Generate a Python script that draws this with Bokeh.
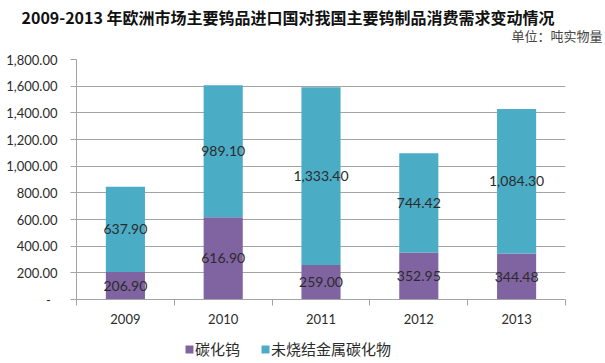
from bokeh.plotting import figure
from bokeh.layouts import column
from bokeh.models import (ColumnDataSource, Range1d, FixedTicker, Legend, LegendItem, Label)
from bokeh.core.properties import value
from bokeh.embed import file_html
from bokeh.resources import INLINE

# ---- data ----
years = ["2009", "2010", "2011", "2012", "2013"]
tungsten_carbide = [206.90, 616.90, 259.00, 352.95, 344.48]          # 碳化钨
unsintered_carbide = [637.90, 989.10, 1333.40, 744.42, 1084.30]      # 未烧结金属碳化物
y_ticks = [0, 200, 400, 600, 800, 1000, 1200, 1400, 1600, 1800]
y_tick_labels = ["-\u00a0\u00a0", "200.00", "400.00", "600.00", "800.00", "1,000.00",
                 "1,200.00", "1,400.00", "1,600.00", "1,800.00"]
series_names = ["碳化钨", "未烧结金属碳化物"]
title_text = "2009-2013 年欧洲市场主要钨品进口国对我国主要钨制品消费需求变动情况"
unit_text = "单位：吨实物量"

PURPLE = "#8064A2"
TEAL = "#4BACC6"
GRID = "#a3a3a3"
TXT = "#2b2b2b"
W = 605
H_TOP, H_MAIN, H_LEG = 45, 293, 25


def blank(h, xr=(0, 1)):
    f = figure(width=W, height=h, output_backend="svg", toolbar_location=None,
               x_range=Range1d(*xr), y_range=Range1d(0, 1),
               x_axis_location=None, y_axis_location=None, min_border=0)
    f.frame_align = False
    f.outline_line_color = None
    f.xgrid.visible = False
    f.ygrid.visible = False
    f.background_fill_color = "white"
    f.border_fill_color = "white"
    return f


# ---- title strip ----
top = blank(H_TOP)
top.add_layout(Label(x=21, y=H_TOP - 16, x_units="screen", y_units="screen", text=title_text,
                     text_font="Noto Sans CJK SC", text_font_size="16px", text_font_style="bold",
                     text_color="#111111", text_baseline="middle", text_align="left"))
top.add_layout(Label(x=602, y=H_TOP - 35, x_units="screen", y_units="screen", text=unit_text,
                     text_font="Noto Sans CJK SC", text_font_size="13px",
                     text_color="#444444", text_baseline="middle", text_align="right"))

# ---- main chart ----
xpos = [i + 0.5 for i in range(len(years))]
src = ColumnDataSource(dict(
    x=xpos,
    wc=tungsten_carbide,
    cc=unsintered_carbide,
    wc_mid=[a / 2 for a in tungsten_carbide],
    cc_mid=[a + b / 2 for a, b in zip(tungsten_carbide, unsintered_carbide)],
    wc_txt=[f"{v:,.2f}" for v in tungsten_carbide],
    cc_txt=[f"{v:,.2f}" for v in unsintered_carbide],
))

p = figure(width=W, height=H_MAIN, output_backend="svg", toolbar_location=None,
           x_range=Range1d(0, len(years)), y_range=Range1d(y_ticks[0], y_ticks[-1]),
           min_border_left=76, min_border_right=40, min_border_top=59 - H_TOP,
           min_border_bottom=H_TOP + H_MAIN - 299)
p.frame_align = False
p.outline_line_color = None
p.background_fill_color = "white"
p.border_fill_color = "white"

rs = p.vbar_stack(["wc", "cc"], x="x", width=0.4, color=[PURPLE, TEAL], source=src,
                  line_color=None)

common = dict(text_align="center", text_baseline="middle", text_font=value("Lato"),
              text_font_size="14px", text_color=TXT, source=src)
p.text(x="x", y="wc_mid", text="wc_txt", **common)
p.text(x="x", y="cc_mid", text="cc_txt", **common)

p.xgrid.visible = False
p.ygrid.grid_line_color = GRID
p.ygrid.grid_line_width = 1

ya = p.yaxis[0]
ya.ticker = FixedTicker(ticks=y_ticks, minor_ticks=[])
ya.major_label_overrides = {float(t): l for t, l in zip(y_ticks, y_tick_labels)}
ya.axis_line_color = GRID
ya.major_tick_line_color = GRID
ya.major_tick_out = 6
ya.major_tick_in = 0
ya.minor_tick_line_color = None
ya.major_label_standoff = 13
ya.major_label_text_font = "Lato"
ya.major_label_text_font_size = "13px"
ya.major_label_text_color = TXT

xa = p.xaxis[0]
xa.ticker = FixedTicker(ticks=xpos, minor_ticks=list(range(len(years) + 1)))
xa.major_label_overrides = {float(x): y for x, y in zip(xpos, years)}
xa.axis_line_color = GRID
xa.major_tick_line_color = None
xa.major_tick_out = 0
xa.major_tick_in = 0
xa.minor_tick_line_color = GRID
xa.minor_tick_out = 6
xa.minor_tick_in = 0
xa.major_label_standoff = 8
xa.major_label_text_font = "Lato"
xa.major_label_text_font_size = "13px"
xa.major_label_text_color = TXT

# ---- legend strip (proxy bars lie outside its visible x range) ----
leg = blank(H_LEG, xr=(-10, -9))
proxies = leg.vbar_stack(["wc", "cc"], x="x", width=0.4, color=[PURPLE, TEAL], source=src,
                         line_color=None)
legend = Legend(items=[LegendItem(label=series_names[i], renderers=[proxies[i]]) for i in range(2)],
                orientation="horizontal", location=(184, 4),
                glyph_width=10, glyph_height=10, label_standoff=1, spacing=20,
                label_text_font="Noto Sans CJK SC", label_text_font_size="15px",
                label_text_color=TXT, label_height=16, padding=0, margin=0,
                border_line_color=None, background_fill_alpha=0)
leg.add_layout(legend, "center")

layout = column(top, p, leg, spacing=0)
open("out.html", "w").write(file_html(layout, INLINE))
